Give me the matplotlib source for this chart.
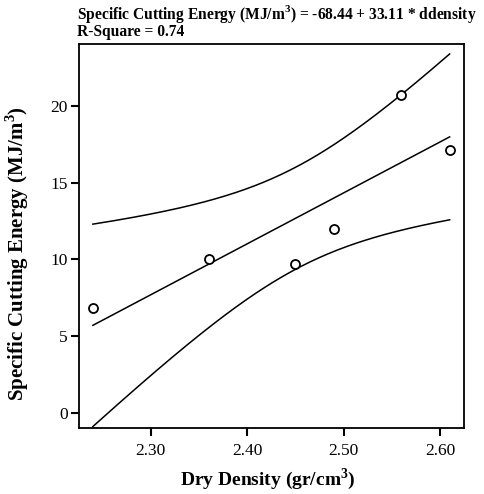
import numpy as np
import matplotlib
matplotlib.use("Agg")
import matplotlib.pyplot as plt

# Data
dry_density = np.array([2.24, 2.36, 2.45, 2.49, 2.56, 2.61])
cutting_energy = np.array([6.85, 10.0, 9.7, 12.0, 20.7, 17.1])
x_ticks = [2.30, 2.40, 2.50, 2.60]
x_tick_labels = ["2.30", "2.40", "2.50", "2.60"]
y_ticks = [0, 5, 10, 15, 20]
title_line1 = "Specific Cutting Energy (MJ/m$^\\mathbf{3}$) = -68.44 + 33.11 * ddensity"
title_line2 = "R-Square = 0.74"
t_crit = 2.776  # t(0.975, df=4)

plt.rcParams['font.family'] = ['Liberation Serif', 'DejaVu Serif']
plt.rcParams['mathtext.fontset'] = 'custom'
plt.rcParams['mathtext.rm'] = 'Liberation Serif'
plt.rcParams['mathtext.bf'] = 'Liberation Serif:bold'

W, H = 485, 494
fig = plt.figure(figsize=(W / 100, H / 100), dpi=100)
ax = fig.add_axes([79 / W, 1 - 428 / H, 385 / W, 384 / H])

# Linear fit and 95% mean confidence band
slope, intercept = np.polyfit(dry_density, cutting_energy, 1)
n = len(dry_density)
resid = cutting_energy - (intercept + slope * dry_density)
s = np.sqrt(np.sum(resid**2) / (n - 2))
xm = dry_density.mean()
sxx = np.sum((dry_density - xm)**2)
xs = np.linspace(dry_density.min(), dry_density.max(), 200)
yfit = intercept + slope * xs
half = t_crit * s * np.sqrt(1.0 / n + (xs - xm)**2 / sxx)

ax.plot(xs, yfit, color='black', lw=1.1)
ax.plot(xs, yfit + half, color='black', lw=1.1)
ax.plot(xs, yfit - half, color='black', lw=1.1)
ax.plot(dry_density, cutting_energy, 'o', mfc='white', mec='black', mew=1.3, ms=6.5, clip_on=False)

ax.set_xlim(2.2256, 2.6249)
ax.set_ylim(-0.95, 24.0)
ax.set_xticks(x_ticks)
ax.set_xticklabels(x_tick_labels)
ax.set_yticks(y_ticks)
ax.tick_params(direction='out', length=5.5, width=1.5, labelsize=12.5)
ax.tick_params(axis='x', pad=5)
ax.tick_params(axis='y', pad=2.5)
for sp in ax.spines.values():
    sp.set_linewidth(1.3)

ax.set_xlabel("Dry Density (gr/cm$^\\mathbf{3}$)", fontsize=14, fontweight='bold', va='baseline')
ax.xaxis.set_label_coords(0.49, -0.148)
ax.set_ylabel("Specific Cutting Energy (MJ/m$^\\mathbf{3}$)", fontsize=15, fontweight='bold', va='center')
ax.yaxis.set_label_coords(-0.161, 0.454)

fig.text(77 / W, 1 - 19 / H, title_line1, fontsize=11.2, fontweight='bold', ha='left', va='baseline')
fig.text(77 / W, 1 - 36 / H, title_line2, fontsize=11.2, fontweight='bold', ha='left', va='baseline')

fig.savefig("out.png", dpi=100)
